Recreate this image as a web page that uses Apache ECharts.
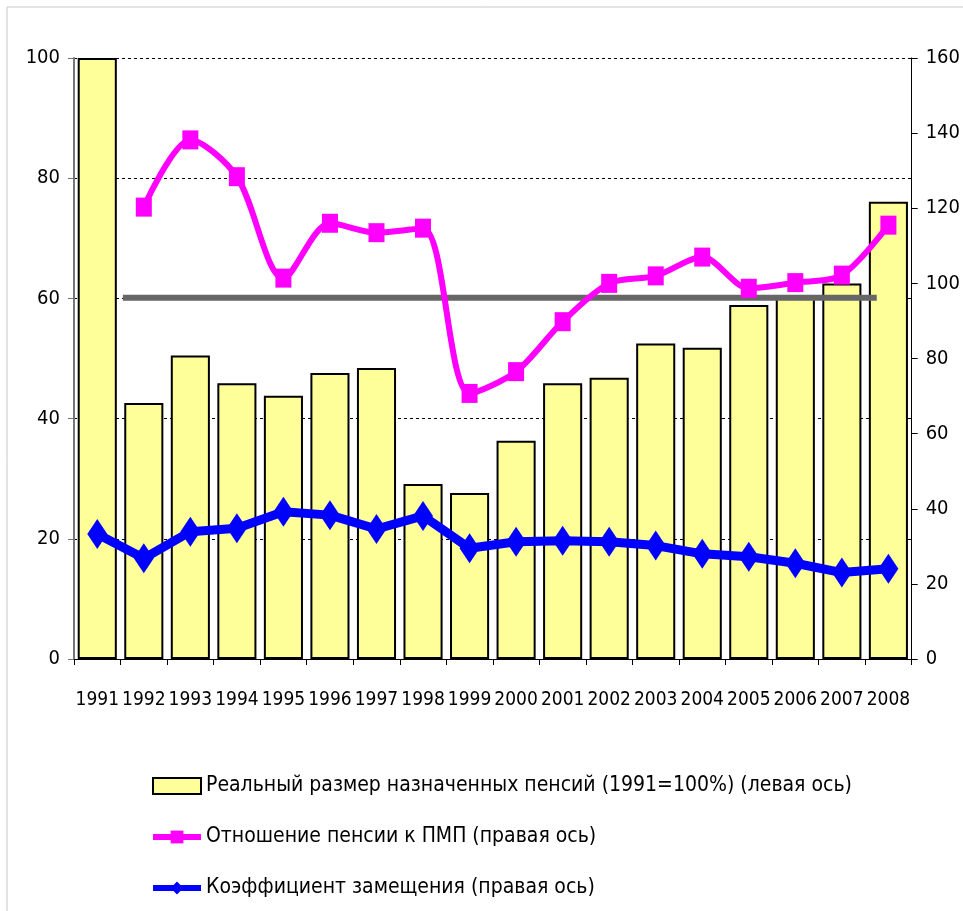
<!DOCTYPE html>
<html>
<head>
<meta charset="utf-8">
<script src="https://cdn.jsdelivr.net/npm/echarts@6/dist/echarts.min.js"></script>
<style>
  html, body { margin: 0; padding: 0; background: #fff; }
  #chart { width: 963px; height: 911px; }
</style>
</head>
<body>
<div id="chart"></div>
<script>
// годы
const years = ['1991', '1992', '1993', '1994', '1995', '1996', '1997', '1998', '1999',
  '2000', '2001', '2002', '2003', '2004', '2005', '2006', '2007', '2008'];

// Реальный размер назначенных пенсий (1991=100%), левая ось
const realPension = [100, 42.6, 50.5, 45.9, 43.8, 47.6, 48.4, 29.1, 27.6,
  36.3, 45.9, 46.8, 52.5, 51.8, 58.9, 60.3, 62.5, 76.1];

// Отношение пенсии к ПМП, правая ось
const pensionToMin = [null, 120.3, 138.2, 128.4, 101.4, 116.0, 113.5, 114.7, 70.7,
  76.5, 89.8, 100.0, 102.0, 107.0, 98.7, 100.2, 102.2, 115.5];

// Коэффициент замещения, правая ось
const replaceRate = [33.3, 26.8, 33.9, 34.8, 39.2, 38.3, 34.6, 38.1, 29.5,
  31.2, 31.5, 31.2, 30.2, 28.0, 27.2, 25.5, 23.0, 24.0];

// серая горизонтальная линия (уровень по левой оси, начало/конец в долях категорий)
const refLineX = [1.05, 17.25];
const refLineLevel = 60.1;

const seriesNames = [
  'Реальный размер назначенных пенсий (1991=100%) (левая ось)',
  'Отношение пенсии к ПМП (правая ось)',
  'Коэффициент замещения (правая ось)'
];

const FONT = '"DejaVu Sans Condensed", "Liberation Sans Narrow", "Arial Narrow", sans-serif';

const chart = echarts.init(document.getElementById('chart'));

const option = {
  backgroundColor: '#fff',
  animation: false,
  textStyle: { fontFamily: FONT },
  graphic: [{
    type: 'rect',
    shape: { x: 7, y: 7, width: 1000, height: 1000 },
    style: { fill: 'none', stroke: '#c8c8c8', lineWidth: 1 },
    z: -10
  }],
  grid: {
    left: 74,
    right: 50,
    top: 58,
    bottom: 252
  },
  legend: {
    orient: 'vertical',
    left: 150,
    top: 775,
    padding: 0,
    itemWidth: 48,
    itemHeight: 16,
    itemGap: 29,
    data: [
      { name: seriesNames[0], icon: 'rect' },
      { name: seriesNames[1], lineStyle: { width: 6 } },
      { name: seriesNames[2], lineStyle: { width: 6 } }
    ],
    textStyle: {
      fontFamily: FONT,
      fontSize: 21,
      lineHeight: 22,
      color: '#000'
    }
  },
  xAxis: [
    {
      type: 'category',
      data: years,
      axisLine: { lineStyle: { color: '#000', width: 1 } },
      axisTick: { show: true, alignWithLabel: false, length: 6, lineStyle: { color: '#000' } },
      axisLabel: { color: '#000', fontSize: 19, fontFamily: FONT, margin: 32, interval: 0 },
      splitLine: { show: false }
    },
    {
      type: 'value',
      min: 0,
      max: years.length,
      show: false
    }
  ],
  yAxis: [
    {
      type: 'value',
      min: 0,
      max: 100,
      interval: 20,
      axisLine: { show: true, lineStyle: { color: '#777', width: 2 } },
      axisTick: { show: true, length: 6, lineStyle: { color: '#777' } },
      axisLabel: { color: '#000', fontSize: 20, fontFamily: FONT, margin: 14 },
      splitLine: { show: true, lineStyle: { color: '#000', width: 1, type: [3, 3] } }
    },
    {
      type: 'value',
      min: 0,
      max: 160,
      interval: 20,
      position: 'right',
      axisLine: { show: true, lineStyle: { color: '#000', width: 1 } },
      axisTick: { show: true, length: 6, lineStyle: { color: '#000' } },
      axisLabel: { color: '#000', fontSize: 20, fontFamily: FONT, margin: 14 },
      splitLine: { show: false }
    }
  ],
  series: [
    {
      name: seriesNames[0],
      type: 'bar',
      data: realPension,
      barCategoryGap: '16%',
      itemStyle: { color: '#FFFF99', borderColor: '#000', borderWidth: 2 },
      z: 1
    },
    {
      name: 'refLine',
      type: 'line',
      xAxisIndex: 1,
      yAxisIndex: 0,
      data: refLineX.map(x => [x, refLineLevel]),
      symbol: 'none',
      lineStyle: { color: '#666', width: 6 },
      silent: true,
      z: 2
    },
    {
      name: seriesNames[2],
      type: 'line',
      yAxisIndex: 1,
      data: replaceRate,
      symbol: 'diamond',
      symbolSize: [20, 30],
      lineStyle: { color: '#0000FF', width: 9 },
      itemStyle: { color: '#0000FF' },
      z: 3
    },
    {
      name: seriesNames[1],
      type: 'line',
      yAxisIndex: 1,
      data: pensionToMin,
      smooth: 0.3,
      connectNulls: false,
      symbol: 'rect',
      symbolSize: [16, 19],
      lineStyle: { color: '#FF00FF', width: 6 },
      itemStyle: { color: '#FF00FF' },
      z: 4
    }
  ]
};

chart.setOption(option);
</script>
</body>
</html>
